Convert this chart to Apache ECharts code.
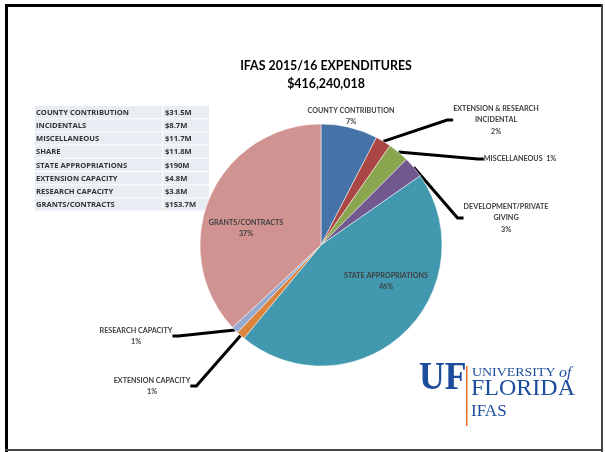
<!DOCTYPE html>
<html>
<head>
<meta charset="utf-8">
<script src="https://cdn.jsdelivr.net/npm/echarts@6/dist/echarts.min.js"></script>
<style>
  html, body { margin: 0; padding: 0; background: #fff; }
  #chart { width: 605px; height: 452px; }
</style>
</head>
<body>
<div id="chart"></div>
<script>
// table rows (same order as slices, clockwise from 12 o'clock)
const categories = ['COUNTY CONTRIBUTION', 'INCIDENTALS', 'MISCELLANEOUS', 'SHARE',
  'STATE APPROPRIATIONS', 'EXTENSION CAPACITY', 'RESEARCH CAPACITY', 'GRANTS/CONTRACTS']
const amounts = [31.5, 8.7, 11.7, 11.8, 190, 4.8, 3.8, 153.7]
const amountLabels = ['$31.5M', '$8.7M', '$11.7M', '$11.8M', '$190M', '$4.8M', '$3.8M', '$153.7M']
const sliceLabels = [
  'COUNTY CONTRIBUTION\n7%',
  'EXTENSION & RESEARCH\nINCIDENTAL\n2%',
  'MISCELLANEOUS  1%',
  'DEVELOPMENT/PRIVATE\nGIVING\n3%',
  'STATE APPROPRIATIONS\n46%',
  'EXTENSION CAPACITY\n1%',
  'RESEARCH CAPACITY\n1%',
  'GRANTS/CONTRACTS\n37%'
]
const sliceColors = ['#4572A7', '#AA4643', '#89A54E', '#71588F', '#4198AF', '#DB843D', '#93A9CF', '#D19392']
const title = 'IFAS 2015/16 EXPENDITURES'
const subtitle = '$416,240,018'

// where each slice label sits, and whether it gets a leader line
const labelSpots = [
  { x: 351, y: 116, line: false },
  { x: 496, y: 120, line: true },
  { x: 520, y: 159, line: true },
  { x: 506, y: 218, line: true },
  { x: 386, y: 281, line: false },
  { x: 152, y: 386, line: true },
  { x: 136, y: 336, line: true },
  { x: 246, y: 228, line: false }
]

const FONT = 'Lato, "Open Sans", sans-serif'
const TABLE_FONT = '"Open Sans", Lato, sans-serif'
const SERIF = '"Liberation Serif", "DejaVu Serif", serif'
const UF_BLUE = '#1C4C9C'

function buildTable() {
  const els = []
  const top = 106
  const rowH = 13.2
  categories.forEach((name, i) => {
    const y = top + i * rowH
    els.push({
      type: 'rect', shape: { x: 35, y: y, width: 127, height: rowH - 1 },
      style: { fill: '#E8ECF3' }, silent: true
    })
    els.push({
      type: 'rect', shape: { x: 163, y: y, width: 46, height: rowH - 1 },
      style: { fill: '#E8ECF3' }, silent: true
    })
    els.push({
      type: 'text', x: 36, y: y + rowH / 2,
      style: { text: name, fill: '#333', font: `bold 7.6px ${TABLE_FONT}`, verticalAlign: 'middle' },
      silent: true
    })
    els.push({
      type: 'text', x: 165, y: y + rowH / 2,
      style: { text: amountLabels[i], fill: '#333', font: `bold 7.6px ${TABLE_FONT}`, verticalAlign: 'middle' },
      silent: true
    })
  })
  return els
}

function buildFrame() {
  return [
    { type: 'rect', shape: { x: 5, y: 4, width: 598, height: 3 }, style: { fill: '#000' }, silent: true },
    { type: 'rect', shape: { x: 5, y: 4, width: 3, height: 448 }, style: { fill: '#000' }, silent: true },
    { type: 'rect', shape: { x: 601, y: 4, width: 2, height: 448 }, style: { fill: '#444' }, silent: true },
    { type: 'rect', shape: { x: 5, y: 449, width: 598, height: 2 }, style: { fill: '#444' }, silent: true }
  ]
}

function buildLogo() {
  return [
    {
      type: 'text', x: 419, y: 399, scaleX: 0.87,
      style: { text: 'UF', fill: UF_BLUE, font: `bold 41px ${SERIF}`, verticalAlign: 'bottom' },
      silent: true
    },
    { type: 'rect', shape: { x: 466, y: 366, width: 1.5, height: 60 }, style: { fill: '#F37021' }, silent: true },
    {
      type: 'text', x: 472, y: 373, scaleX: 1.07,
      style: {
        text: '{a|UNIVERSITY }{b|of}',
        verticalAlign: 'middle',
        rich: {
          a: { fill: UF_BLUE, font: `13px ${SERIF}` },
          b: { fill: UF_BLUE, font: `italic 15px ${SERIF}` }
        }
      },
      silent: true
    },
    {
      type: 'text', x: 471, y: 389,
      style: { text: 'FLORIDA', fill: UF_BLUE, font: `24px ${SERIF}`, verticalAlign: 'middle' },
      silent: true
    },
    {
      type: 'text', x: 471, y: 412,
      style: { text: 'IFAS', fill: UF_BLUE, font: `17px ${SERIF}`, verticalAlign: 'middle' },
      silent: true
    }
  ]
}

const chart = echarts.init(document.getElementById('chart'), null, { renderer: 'canvas' })

chart.setOption({
  animation: false,
  backgroundColor: '#fff',
  title: {
    text: title + '\n' + subtitle,
    left: 321,
    top: 52,
    textAlign: 'center',
    textStyle: { fontFamily: FONT, fontWeight: 'bold', fontSize: 12.4, color: '#000', lineHeight: 18 }
  },
  graphic: { elements: [...buildFrame(), ...buildTable(), ...buildLogo()] },
  series: [
    {
      type: 'pie',
      center: [321, 245],
      radius: 121,
      startAngle: 90,
      clockwise: true,
      avoidLabelOverlap: false,
      itemStyle: { borderColor: '#fff', borderWidth: 0.5 },
      label: {
        show: true,
        position: 'outside',
        formatter: (p) => sliceLabels[p.dataIndex],
        fontFamily: FONT,
        fontWeight: 'bold',
        fontSize: 7.2,
        lineHeight: 11.2,
        color: '#404040',
        align: 'center'
      },
      labelLine: {
        show: true,
        length: 10,
        length2: 6,
        smooth: false,
        lineStyle: { color: '#000', width: 3 }
      },
      labelLayout: (params) => {
        const spot = labelSpots[params.dataIndex]
        return { x: spot.x, y: spot.y, align: 'center', verticalAlign: 'middle' }
      },
      data: amounts.map((v, i) => ({
        name: categories[i],
        value: v,
        itemStyle: { color: sliceColors[i] },
        labelLine: { show: labelSpots[i].line }
      }))
    }
  ]
})
</script>
</body>
</html>
